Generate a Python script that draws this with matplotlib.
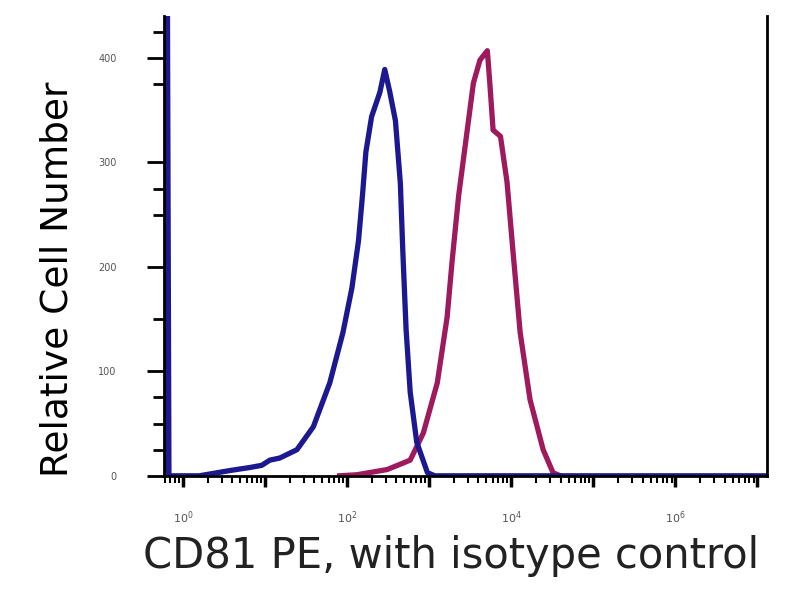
import numpy as np
import matplotlib
matplotlib.use("Agg")
import matplotlib.pyplot as plt
from matplotlib.ticker import FixedLocator, NullFormatter, FuncFormatter

# isotype control (blue) - log10 intensity vs count
iso_logx = [-0.2, -0.19, -0.17, 0.2, 0.57, 0.82, 0.96, 1.06, 1.18, 1.39, 1.59, 1.79, 1.95,
            2.06, 2.14, 2.19, 2.23, 2.30, 2.40, 2.46, 2.52, 2.59, 2.65, 2.68, 2.72,
            2.77, 2.85, 2.98, 3.07, 7.1]
iso_count = [0, 500, 0, 0, 5, 8, 10, 15, 17, 25, 47, 89, 137,
             180, 225, 270, 310, 344, 367, 389, 368, 340, 280, 215, 140,
             80, 32, 3, 0, 0]

# CD81 PE stained (magenta)
cd81_logx = [1.91, 2.12, 2.49, 2.77, 2.93, 3.10, 3.22, 3.28, 3.36, 3.46, 3.54, 3.62,
             3.71, 3.74, 3.78, 3.87, 3.95, 4.02, 4.11, 4.23, 4.39, 4.51, 4.60]
cd81_count = [0, 1, 6, 15, 41, 89, 152, 205, 268, 328, 376, 398,
              407, 376, 331, 325, 281, 217, 137, 73, 25, 3, 0]

ytick_vals = [0, 100, 200, 300, 400]
ytick_minor = [25, 50, 75, 150, 250, 275, 375, 425]
xlabel_exps = [0, 2, 4, 6]

fig = plt.figure(figsize=(8, 6), dpi=100)
ax = fig.add_axes([0.205, 0.207, 0.754, 0.766])

ax.plot(10 ** np.array(cd81_logx), cd81_count, color="#9e1a5c", lw=3.8, solid_joinstyle="round")
ax.plot(10 ** np.array(iso_logx), iso_count, color="#1c1890", lw=3.8, solid_joinstyle="round")

ax.set_xscale("log")
ax.set_xlim(10 ** -0.23, 10 ** 7.12)
ax.set_ylim(0, 440)

ax.spines["top"].set_visible(False)
for s in ["left", "bottom", "right"]:
    ax.spines[s].set_linewidth(2)
    ax.spines[s].set_color("black")

ax.xaxis.set_major_locator(FixedLocator([10.0 ** e for e in range(0, 8)]))
ax.xaxis.set_major_formatter(FuncFormatter(
    lambda v, p: r"$10^{%d}$" % round(np.log10(v)) if round(np.log10(v)) in xlabel_exps else ""))
ax.xaxis.set_minor_locator(FixedLocator([m * 10.0 ** e for e in range(-1, 8) for m in range(2, 10)]))
ax.xaxis.set_minor_formatter(NullFormatter())

ax.yaxis.set_major_locator(FixedLocator(ytick_vals))
ax.yaxis.set_minor_locator(FixedLocator(ytick_minor))

ax.tick_params(axis="x", which="major", length=8, width=2.5, labelsize=8, labelcolor="#555555", pad=16)
ax.tick_params(axis="x", which="minor", length=5, width=1.5)
ax.tick_params(axis="y", which="major", length=12, width=2, labelsize=7, labelcolor="#555555", pad=22)
ax.tick_params(axis="y", which="minor", length=8, width=2)

ax.set_ylabel("Relative Cell Number", fontsize=27)
ax.yaxis.set_label_coords(-0.146, 0.428)
ax.set_xlabel("CD81 PE, with isotype control", fontsize=30, color="#222222")
ax.xaxis.set_label_coords(0.476, -0.128)

fig.savefig("out.png", dpi=100)
